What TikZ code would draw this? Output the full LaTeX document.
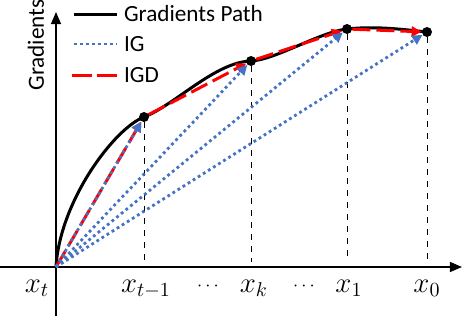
\documentclass[tikz,border=0pt]{standalone}
\usepackage{fontspec}
\setsansfont{Carlito}
\usetikzlibrary{arrows.meta}
\definecolor{igblue}{RGB}{68,114,196}
\begin{document}
\begin{tikzpicture}[x=0.5pt, y=-0.5pt, font=\sffamily\fontsize{11.6}{13}\selectfont,
  pathline/.style={black, line width=1.5pt},
  igline/.style={igblue, line width=1.4pt, dash pattern=on 1.4pt off 1.6pt, -{Triangle[length=5pt,width=5pt]}},
  igdline/.style={red, line width=1.5pt, dash pattern=on 9pt off 3pt, -{Triangle[length=5pt,width=5pt]}},
  dot/.style={circle, fill=black, inner sep=0pt, minimum size=5pt},
  tick/.style={anchor=base, font=\fontsize{14}{16}\selectfont}]
  \useasboundingbox (0,0) rectangle (463,317);
  % axes
  \coordinate (o) at (56,267);
  \coordinate (xs) at (0,267);
  \coordinate (xe) at (462,267);
  \coordinate (ys) at (56,316);
  \coordinate (ye) at (56,12);
  \draw[line width=0.6pt, -{Triangle[length=6pt,width=5pt]}] (xs) -- (xe);
  \draw[line width=0.6pt, -{Triangle[length=6pt,width=5pt]}] (ys) -- (ye);
  \node[rotate=90] (ylab) at (36,45) {Gradients};
  % points on the path
  \node[dot] (p1) at (144,117) {};
  \node[dot] (p2) at (251,61) {};
  \node[dot] (p3) at (347,29) {};
  \node[dot] (p4) at (427,32) {};
  \coordinate (base) at (0,262);
  \foreach \p in {p1,p2,p3,p4}
    \draw[dashed, line width=0.4pt] (\p) -- (\p |- base);
  % gradients path
  \draw[pathline] (o) .. controls (60,200) and (115,128) .. (p1.center)
    .. controls (175,105) and (215,62) .. (p2.center)
    .. controls (275,60) and (320,32) .. (p3.center)
    .. controls (374,26) and (400,29) .. (p4.center);
  % IGD and IG
  \draw[igdline] (o) -- (p1);
  \draw[igdline] (p1) -- (p2);
  \draw[igdline] (p2) -- (p3);
  \draw[igdline] (p3) -- (p4);
  \foreach \p in {p1,p2,p3,p4}
    \draw[igline] (o) -- (\p);
  % tick labels
  \node[tick] (xt) at (37,292) {$x_t$};
  \node[tick] (xtm) at (146,292) {$x_{t-1}$};
  \node[tick, font=\fontsize{9}{10}\selectfont] (d1) at (208,290) {$\cdots$};
  \node[tick] (xk) at (254,292) {$x_k$};
  \node[tick, font=\fontsize{9}{10}\selectfont] (d2) at (304,290) {$\cdots$};
  \node[tick] (x1) at (349,292) {$x_1$};
  \node[tick] (x0) at (427,292) {$x_0$};
  % legend
  \node[anchor=west] (lg1) at (117,14) {Gradients Path};
  \node[anchor=west] (lg2) at (117,44) {IG};
  \node[anchor=west] (lg3) at (117,75) {IGD};
  \coordinate (ls1) at (74,14);
  \coordinate (ls2) at (74,44);
  \coordinate (ls3) at (72,75);
  \draw[pathline] (ls1) -- (lg1.west);
  \draw[igline, -] (ls2) -- (lg2.west);
  \draw[igdline, -, dash pattern=on 10pt off 2.5pt] (ls3) -- (lg3.west);
\end{tikzpicture}
\end{document}
